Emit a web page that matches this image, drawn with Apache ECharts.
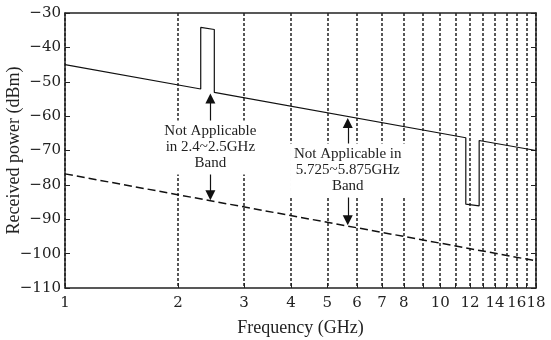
<!DOCTYPE html>
<html>
<head>
<meta charset="utf-8">
<style>
  html, body { margin: 0; padding: 0; background: #fff; }
  #chart { width: 551px; height: 340px; }
</style>
<script src="https://cdn.jsdelivr.net/npm/echarts@6/dist/echarts.min.js"></script>
</head>
<body>
<div id="chart"></div>
<script>
// Frequency grid (GHz): one dashed line per GHz, labels on a subset
const freqTicks = [1, 2, 3, 4, 5, 6, 7, 8, 9, 10, 11, 12, 13, 14, 15, 16, 17, 18];
const freqLabels = [1, 2, 3, 4, 5, 6, 7, 8, 10, 12, 14, 16, 18];

// Received power (dBm) limits
const powerMin = -110;
const powerMax = -30;
const powerStep = 10;

// Upper limit curve with the 2.4 GHz raise and the 12 GHz notch, [GHz, dBm]
const upperLimit = [
  [1, -45.0], [2.3, -52.1], [2.3, -34.2], [2.5, -34.8], [2.5, -53.1],
  [11.7, -66.3], [11.7, -85.6], [12.7, -86.1], [12.7, -67.1], [18, -70.0]
];

// Lower limit curve, [GHz, dBm]
const lowerLimit = [[1, -76.8], [18, -102.1]];

// Band notes: centre of text [GHz, dBm]
const noteText = [
  'Not Applicable\nin 2.4~2.5GHz\nBand',
  'Not Applicable in\n5.725~5.875GHz\nBand'
];
const noteCentre = [[2.44, -69.1], [5.67, -75.8]];

// Arrows from each note: [GHz, shaft start dBm, arrow-head centre dBm]
const noteArrows = [
  [2.44, -61.6, -54.9],
  [2.44, -76.6, -83.0],
  [5.67, -68.9, -62.0],
  [5.67, -83.5, -90.3]
];

const ink = '#222';
const serif = 'Liberation Serif';
const tickFont = 'DejaVu Serif';

const chart = echarts.init(document.getElementById('chart'), null, { renderer: 'canvas' });

chart.setOption({
  backgroundColor: '#fff',
  animation: false,
  grid: { left: 65, right: 15, top: 13, bottom: 52, containLabel: false, outerBoundsMode: 'none' },
  xAxis: [
    {
      type: 'log',
      logBase: 10,
      min: 1,
      max: 18,
      name: 'Frequency (GHz)',
      nameLocation: 'middle',
      nameGap: 31,
      nameMoveOverlap: false,
      nameTextStyle: { fontFamily: serif, fontSize: 18, color: ink },
      axisLine: { show: true, lineStyle: { color: ink, width: 1.5 } },
      axisTick: { show: true, inside: true, length: 5, customValues: freqTicks, lineStyle: { color: ink } },
      axisLabel: {
        customValues: freqLabels,
        formatter: v => String(Math.round(v)),
        showMinLabel: true,
        showMaxLabel: true,
        hideOverlap: false,
        fontFamily: tickFont, fontSize: 15, color: ink, margin: 8
      },
      minorTick: { show: false },
      splitLine: { show: true, lineStyle: { type: [3, 2], color: '#222', width: 1.5 } }
    },
    {
      type: 'log',
      logBase: 10,
      min: 1,
      max: 18,
      position: 'top',
      axisLine: { show: true, lineStyle: { color: ink, width: 1.5 } },
      axisTick: { show: false },
      axisLabel: { show: false },
      splitLine: { show: false }
    }
  ],
  yAxis: [
    {
      type: 'value',
      min: powerMin,
      max: powerMax,
      interval: powerStep,
      name: 'Received power (dBm)',
      nameLocation: 'middle',
      nameGap: 42,
      nameMoveOverlap: false,
      nameTextStyle: { fontFamily: serif, fontSize: 18, color: ink },
      axisLine: { show: true, lineStyle: { color: ink, width: 1.5 } },
      axisTick: { show: true, inside: true, length: 5, lineStyle: { color: ink } },
      axisLabel: {
        formatter: v => String(v).replace('-', '\u2212'),
        fontFamily: tickFont, fontSize: 15, color: ink, margin: 4
      },
      splitLine: { show: false }
    },
    {
      type: 'value',
      min: powerMin,
      max: powerMax,
      interval: powerStep,
      position: 'right',
      axisLine: { show: true, lineStyle: { color: ink, width: 1.5 } },
      axisTick: { show: true, inside: true, length: 5, lineStyle: { color: ink } },
      axisLabel: { show: false },
      splitLine: { show: false }
    }
  ],
  series: [
    {
      name: 'Upper',
      type: 'line',
      data: upperLimit,
      showSymbol: false,
      symbol: 'none',
      lineStyle: { color: '#111', width: 1.2 },
      silent: true,
      markLine: {
        silent: true,
        symbol: ['none', 'triangle'],
        symbolSize: 10,
        label: { show: false },
        lineStyle: { color: '#111', width: 1.2, type: 'solid' },
        data: noteArrows.map(a => [{ coord: [a[0], a[1]] }, { coord: [a[0], a[2]] }])
      },
      markPoint: {
        silent: true,
        symbol: 'rect',
        symbolSize: 0,
        label: {
          show: true,
          position: 'inside',
          formatter: p => p.name,
          fontFamily: serif,
          fontSize: 15,
          lineHeight: 16,
          color: ink,
          backgroundColor: '#fff',
          padding: [3, 4]
        },
        data: noteText.map((t, i) => ({ name: t, coord: noteCentre[i] }))
      }
    },
    {
      name: 'Lower',
      type: 'line',
      data: lowerLimit,
      showSymbol: false,
      symbol: 'none',
      lineStyle: { color: '#111', width: 1.5, type: [8, 4] },
      silent: true
    }
  ]
});
</script>
</body>
</html>
